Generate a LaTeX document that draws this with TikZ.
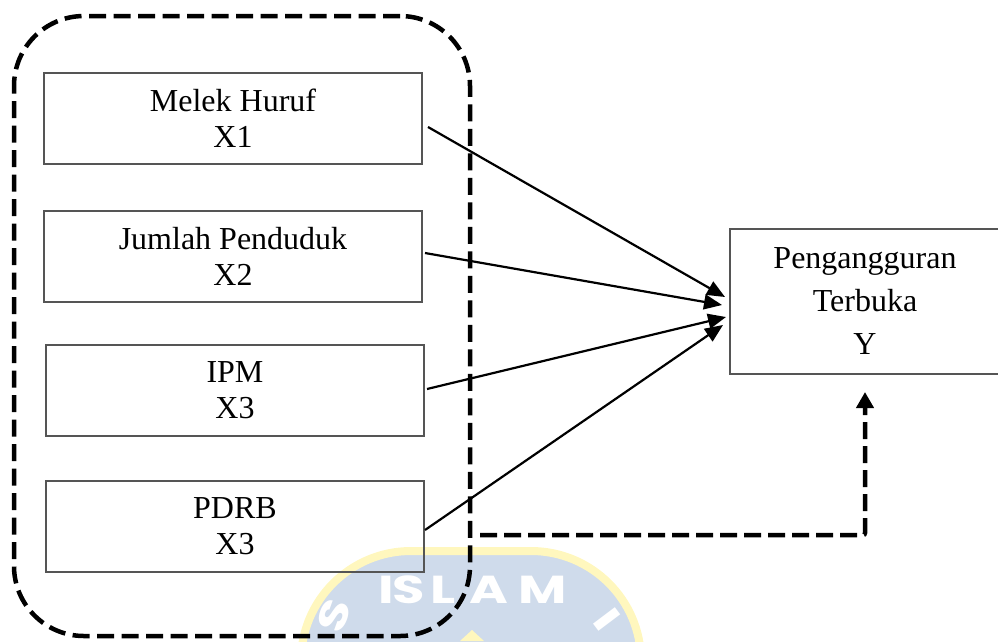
\documentclass[tikz,border=0pt]{standalone}
\usepackage{fontspec}
\setmainfont{Liberation Serif}
\newfontfamily\wmfont{Poppins}
\usetikzlibrary{arrows.meta}
\definecolor{wmblue}{RGB}{207,219,235}
\definecolor{wmyellow}{RGB}{255,247,190}
\definecolor{boxline}{RGB}{85,85,85}
\newcommand{\wmwide}[1]{\scalebox{1.35}[1]{#1}}
\tikzset{
  varbox/.style={draw=boxline, line width=1.3pt, minimum width=378pt, minimum height=91pt,
    inner sep=0pt, outer sep=0pt, align=center, font=\fontsize{32pt}{36pt}\selectfont},
  ybox/.style={draw=boxline, line width=1.3pt, minimum width=270pt, minimum height=145pt,
    inner sep=0pt, outer sep=0pt, align=center, font=\fontsize{32pt}{43pt}\selectfont},
  grpbox/.style={draw, line width=4.5pt, dash pattern=on 17pt off 7.5pt, rounded corners=70pt,
    minimum width=456pt, minimum height=620pt, inner sep=0pt, outer sep=0pt},
  arr/.style={line width=2.2pt, -{Triangle[length=18pt,width=15pt]}},
  dasharr/.style={line width=4.5pt, dash pattern=on 17pt off 7pt, rounded corners=2pt,
    -{Triangle[length=16pt,width=17pt]}},
  wmletter/.style={text=white, font=\wmfont\bfseries\fontsize{39pt}{39pt}\selectfont, inner sep=0pt}
}
\begin{document}
\begin{tikzpicture}[x=1pt, y=-1pt]
\useasboundingbox (0,0) rectangle (998,641);
% watermark
\draw[line width=8pt, draw=wmyellow, fill=wmblue, rounded corners=110pt]
  (301,790) -- (301,551) -- (641,551) -- (641,790) -- cycle;
\node[wmletter, anchor=base] at (386,603) {\wmwide{I}};
\node[wmletter, anchor=base] at (409,603) {\wmwide{S}};
\node[wmletter, anchor=base] at (443,603) {\wmwide{L}};
\node[wmletter, anchor=base] at (489,603) {\wmwide{A}};
\node[wmletter, anchor=base] at (543,603) {\wmwide{M}};
\node[wmletter, rotate=70] at (334,616) {\wmwide{S}};
\node[wmletter, rotate=-53] at (607,619) {\wmwide{I}};
\fill[wmyellow] (460,641) -- (472,630) -- (484,641) -- cycle;
% group
\node[grpbox] (grp) at (242,326) {};
% boxes
\node[varbox] (b1) at (233,118.5) {Melek Huruf\\X1};
\node[varbox] (b2) at (233,256.5) {Jumlah Penduduk\\X2};
\node[varbox] (b3) at (235,390.5) {IPM\\X3};
\node[varbox] (b4) at (235,526.5) {PDRB\\X3};
\node[ybox] (Y) at (865,301.5) {Pengangguran\\Terbuka\\Y};
% arrows
\draw[arr] ([xshift=6pt,yshift=-8.5pt]b1.east) -- ([xshift=-5pt,yshift=4.5pt]Y.west);
\draw[arr] ([xshift=3pt,yshift=3.5pt]b2.east) -- ([xshift=-8pt,yshift=-3.5pt]Y.west);
\draw[arr] ([xshift=3pt,yshift=1.5pt]b3.east) -- ([xshift=-4pt,yshift=-15.5pt]Y.west);
\draw[arr] ([xshift=1pt,yshift=-3.5pt]b4.east) -- ([xshift=-7pt,yshift=-23.5pt]Y.west);
\draw[dasharr] ([xshift=10pt,yshift=-209pt]grp.east) -| ([yshift=-18pt]Y.south);
\end{tikzpicture}
\end{document}
